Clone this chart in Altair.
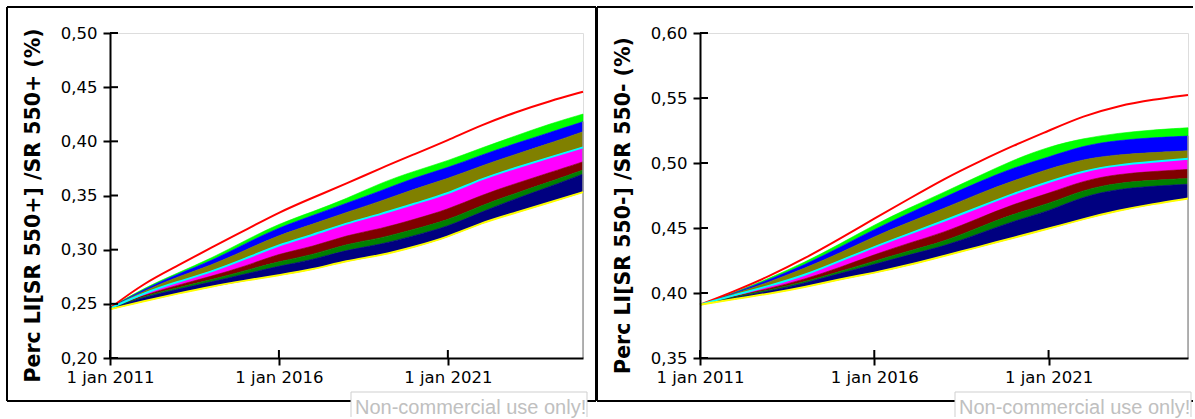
import altair as alt
import pandas as pd

# Simulation years (time axis runs from 1 jan 2011 to 1 jan 2025)
YEARS = [2011, 2012, 2013, 2014, 2015, 2016, 2017, 2018,
         2019, 2020, 2021, 2022, 2023, 2024, 2025]
X_TICKS = [2011, 2016, 2021]

# Sensitivity envelope for Perc LI[SR 550+] / SR 550+ (%)
P_MAX = [0.246, 0.269, 0.285, 0.302, 0.318, 0.3345, 0.348, 0.361,
         0.375, 0.388, 0.401, 0.415, 0.427, 0.437, 0.4458]
P_HI3 = [0.2465, 0.2645, 0.2785, 0.292, 0.3085, 0.324, 0.335, 0.347,
         0.3615, 0.3725, 0.382, 0.394, 0.405, 0.416, 0.4252]
P_HI2 = [0.2462, 0.2635, 0.2775, 0.2895, 0.3055, 0.3205, 0.3315, 0.343,
         0.354, 0.3665, 0.3755, 0.3875, 0.398, 0.408, 0.4181]
P_HI1 = [0.246, 0.262, 0.275, 0.2855, 0.2995, 0.3135, 0.3235, 0.3345,
         0.3445, 0.356, 0.3655, 0.3775, 0.388, 0.398, 0.4089]
P_MED = [0.2458, 0.260, 0.2703, 0.2795, 0.2915, 0.3045, 0.3135, 0.3245,
         0.3325, 0.3425, 0.3515, 0.3655, 0.3755, 0.385, 0.3944]
P_LO1 = [0.2456, 0.2582, 0.2671, 0.2755, 0.2845, 0.2965, 0.3025, 0.3135,
         0.319, 0.328, 0.337, 0.3505, 0.361, 0.371, 0.3811]
P_LO2 = [0.2455, 0.2572, 0.2649, 0.2722, 0.2805, 0.2893, 0.295, 0.3055,
         0.3102, 0.319, 0.327, 0.341, 0.352, 0.3625, 0.3735]
P_LO3 = [0.2455, 0.2562, 0.2635, 0.2702, 0.2775, 0.285, 0.2905, 0.300,
         0.3045, 0.313, 0.3212, 0.335, 0.347, 0.358, 0.3698]
P_MIN = [0.245, 0.2525, 0.2595, 0.266, 0.2715, 0.2765, 0.2815, 0.290,
         0.2945, 0.3025, 0.3115, 0.325, 0.334, 0.3435, 0.3531]

# Sensitivity envelope for Perc LI[SR 550-] / SR 550- (%)
M_MAX = [0.391, 0.4015, 0.413, 0.4265, 0.4415, 0.4572, 0.4725, 0.4878,
         0.501, 0.5135, 0.5248, 0.5363, 0.544, 0.5488, 0.5523]
M_HI3 = [0.391, 0.4005, 0.4115, 0.4235, 0.4375, 0.4525, 0.4655, 0.4775,
         0.490, 0.5025, 0.5125, 0.519, 0.523, 0.5255, 0.5271]
M_HI2 = [0.391, 0.400, 0.4105, 0.4215, 0.435, 0.449, 0.4615, 0.4735,
         0.4855, 0.4965, 0.5045, 0.5135, 0.5175, 0.5195, 0.5207]
M_HI1 = [0.391, 0.3995, 0.4085, 0.419, 0.4305, 0.4435, 0.4545, 0.465,
         0.4765, 0.4865, 0.4955, 0.503, 0.5065, 0.508, 0.5094]
M_MED = [0.391, 0.3985, 0.4055, 0.4135, 0.4245, 0.4355, 0.4455, 0.4555,
         0.466, 0.4765, 0.4855, 0.494, 0.4985, 0.501, 0.5032]
M_LO1 = [0.391, 0.3975, 0.4035, 0.4105, 0.4195, 0.4295, 0.4385, 0.4465,
         0.4575, 0.4685, 0.4765, 0.4865, 0.4915, 0.4935, 0.4951]
M_LO2 = [0.391, 0.397, 0.4025, 0.4085, 0.4165, 0.4245, 0.4325, 0.4395,
         0.4505, 0.461, 0.4685, 0.4795, 0.4848, 0.4868, 0.4881]
M_LO3 = [0.391, 0.3965, 0.4015, 0.4075, 0.415, 0.422, 0.4295, 0.436,
         0.4455, 0.4555, 0.4628, 0.4745, 0.480, 0.4822, 0.4837]
M_MIN = [0.391, 0.3955, 0.3995, 0.4045, 0.4105, 0.4155, 0.4215, 0.4285,
         0.4355, 0.4425, 0.4495, 0.457, 0.4635, 0.4685, 0.4727]

LEFT_Y_TICKS = [0.20, 0.25, 0.30, 0.35, 0.40, 0.45, 0.50]
RIGHT_Y_TICKS = [0.35, 0.40, 0.45, 0.50, 0.55, 0.60]

LEFT_TITLE = "Perc LI[SR 550+] /SR 550+ (%)"
RIGHT_TITLE = "Perc LI[SR 550-] /SR 550- (%)"
WATERMARK = "Non-commercial use only!"

# filled bands (lower bound, upper bound, colour)
BANDS = [("hi2", "hi3", "#00ff00"), ("hi1", "hi2", "#0000ff"),
         ("med", "hi1", "#808000"), ("lo1", "med", "#ff00ff"),
         ("lo2", "lo1", "#800000"), ("lo3", "lo2", "#008000"),
         ("min", "lo3", "#000080")]
LINES = [("max", "#ff0000"), ("med", "#00ffff"), ("min", "#ffff00")]

HEIGHT = 325
FONT = "DejaVu Sans"
CURVE = "basis"


def seg(x1, y1, x2=None, y2=None, color="black", width=2):
    enc = {"x": alt.value(x1), "y": alt.value(y1)}
    if x2 is not None:
        enc["x2"] = alt.value(x2)
    if y2 is not None:
        enc["y2"] = alt.value(y2)
    return alt.Chart(pd.DataFrame({"k": [0]})).mark_rule(
        color=color, strokeWidth=width).encode(**enc)


def panel(cols, y_domain, y_ticks, title, width, right_edge, wm_x):
    df = pd.DataFrame({"year": YEARS, **cols})
    xs = alt.Scale(domain=[2011, 2025], nice=False, zero=False)
    ys = alt.Scale(domain=y_domain, nice=False, zero=False)
    x_axis = alt.Axis(values=X_TICKS, labelExpr="'1 jan ' + datum.value",
                      grid=False, domainColor="black", domainWidth=2,
                      tickColor="black", tickWidth=2, tickSize=7,
                      labelFont=FONT, labelFontSize=16.5, labelColor="black",
                      labelPadding=4, labelFlush=False, labelOverlap=False,
                      zindex=1)
    y_axis = alt.Axis(values=y_ticks,
                      labelExpr="replace(format(datum.value, '.2f'), '.', ',')",
                      grid=False, domainColor="black", domainWidth=2,
                      tickColor="black", tickWidth=2, tickSize=7,
                      labelFont=FONT, labelFontSize=16.5, labelColor="black",
                      labelPadding=6, labelFlush=False, labelOverlap=False,
                      titleFont=FONT, titleFontSize=20.5, titleFontWeight="bold",
                      titleColor="black", titleX=-67, titleY=172,
                      titleAlign="center", titleBaseline="bottom", zindex=1)
    base = alt.Chart(df)
    X = alt.X("year:Q", scale=xs, axis=x_axis, title="")
    layers = []
    for lo, hi, c in BANDS:
        layers.append(base.mark_area(color=c, stroke=c, strokeWidth=0.6,
                                     interpolate=CURVE).encode(
            x=X, y=alt.Y(f"{hi}:Q", scale=ys, axis=y_axis, title=title),
            y2=f"{lo}:Q"))
    # plot edge seen under the envelope at the final time
    layers.append(base.transform_filter(alt.datum.year == 2025).mark_rule(
        color="#9a9a9a", strokeWidth=1.5).encode(
        x=X, y=alt.Y("hi2:Q", scale=ys, axis=y_axis, title=title),
        y2=alt.datum(y_domain[0])))
    for f, c in LINES:
        layers.append(base.mark_line(color=c, strokeWidth=2,
                                     interpolate=CURVE).encode(
            x=X, y=alt.Y(f"{f}:Q", scale=ys, axis=y_axis, title=title)))
    # inner halves of the crossing tick marks
    layers.append(alt.Chart(pd.DataFrame({"t": y_ticks})).mark_rule(
        color="black", strokeWidth=2).encode(
        y=alt.Y("t:Q", scale=ys, axis=y_axis, title=title),
        x=alt.value(0), x2=alt.value(8)))
    layers.append(alt.Chart(pd.DataFrame({"t": X_TICKS})).mark_rule(
        color="black", strokeWidth=2).encode(
        x=alt.X("t:Q", scale=xs, axis=x_axis, title=""),
        y=alt.value(HEIGHT), y2=alt.value(HEIGHT - 8)))
    # frame around the panel
    left, top, bottom = -103, -26, 368
    layers.append(seg(left, top, right_edge, None))
    layers.append(seg(left, bottom, right_edge, None))
    layers.append(seg(left, top, None, bottom))
    if right_edge < 490:
        layers.append(seg(right_edge, top, None, bottom))
    # watermark label, running off the bottom edge
    box_l, box_r, box_t, box_b = wm_x, wm_x + 236, 359, 384
    layers.append(alt.Chart(pd.DataFrame({"k": [0]})).mark_rect(
        fill="white").encode(x=alt.value(box_l), x2=alt.value(box_r),
                             y=alt.value(box_t), y2=alt.value(box_b)))
    layers.append(seg(box_l, box_t, box_r, None, color="#cfcfcf", width=1))
    layers.append(seg(box_l, box_t, None, box_b, color="#cfcfcf", width=1))
    layers.append(seg(box_r, box_t, None, box_b, color="#cfcfcf", width=1))
    layers.append(alt.Chart(pd.DataFrame({"k": [0]})).mark_text(
        text=WATERMARK, align="left", baseline="alphabetic",
        font="Liberation Sans", fontSize=20, color="#c0c0c0").encode(
        x=alt.value(box_l + 4), y=alt.value(381)))
    return alt.layer(*layers).properties(width=width, height=HEIGHT)


left_cols = {"max": P_MAX, "hi3": P_HI3, "hi2": P_HI2, "hi1": P_HI1,
             "med": P_MED, "lo1": P_LO1, "lo2": P_LO2, "lo3": P_LO3,
             "min": P_MIN}
right_cols = {"max": M_MAX, "hi3": M_HI3, "hi2": M_HI2, "hi1": M_HI1,
              "med": M_MED, "lo1": M_LO1, "lo2": M_LO2, "lo3": M_LO3,
              "min": M_MIN}

left_panel = panel(left_cols, [0.20, 0.50], LEFT_Y_TICKS, LEFT_TITLE,
                   473, 486, 241)
right_panel = panel(right_cols, [0.35, 0.60], RIGHT_Y_TICKS, RIGHT_TITLE,
                    488, 493, 255)

chart = alt.hconcat(left_panel, right_panel, spacing=117, bounds="flush",
                    padding={"left": 5, "top": 5, "right": 0, "bottom": 0}
                    ).configure_view(stroke="transparent").configure(
    background="white")

chart.save("out.html", embed_options={"renderer": "svg", "actions": False})
